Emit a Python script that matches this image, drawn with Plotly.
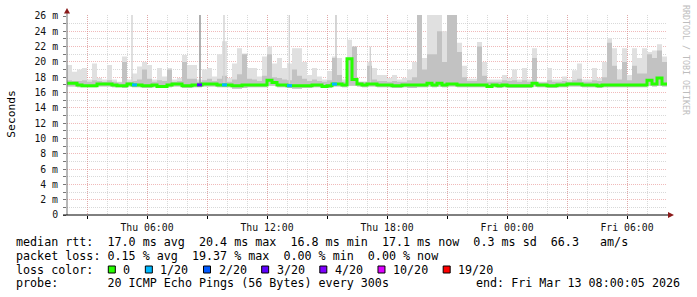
import pandas as pd
import plotly.graph_objects as go

# ---------------- data ----------------
start_time = "2026-03-12 02:00:00"
end_time = "2026-03-13 08:00:00"
bucket_minutes = 15

median_ms = [
    17.2, 17.2, 17.0, 16.9, 16.9, 16.9, 17.1, 17.1, 17.1, 17.0,
    16.9, 16.9, 17.1, 17.0, 17.0, 16.9, 16.9, 17.0, 16.8, 16.8,
    17.0, 17.1, 17.1, 16.9, 16.9, 17.0, 17.0, 17.1, 17.1, 17.1,
    17.0, 17.0, 17.0, 16.9, 16.9, 17.0, 17.0, 17.0, 17.0, 17.0,
    17.6, 17.3, 17.0, 17.0, 16.9, 16.9, 16.9, 16.9, 16.9, 17.0,
    17.0, 16.8, 16.9, 17.1, 17.1, 17.0, 20.4, 17.7, 17.1, 17.0,
    17.1, 17.1, 17.0, 17.0, 17.0, 16.9, 16.9, 17.0, 17.0, 17.0,
    17.0, 17.0, 17.2, 17.0, 17.2, 17.0, 17.1, 17.1, 17.0, 17.0,
    17.0, 17.0, 17.0, 17.0, 16.8, 17.0, 16.9, 17.0, 16.9, 16.9,
    16.9, 16.9, 16.9, 17.2, 17.0, 17.0, 16.9, 16.9, 17.0, 17.0,
    17.1, 17.1, 17.1, 17.0, 17.0, 17.0, 16.9, 17.0, 17.0, 17.0,
    17.0, 17.0, 17.0, 17.0, 17.0, 17.0, 17.6, 17.1, 17.9, 17.1,
]

ping_min_ms = [
    16.8, 16.8, 16.7, 16.7, 16.7, 16.7, 16.8, 16.8, 16.8, 16.7,
    16.7, 16.6, 16.8, 16.7, 16.7, 16.6, 16.6, 16.7, 16.6, 16.6,
    16.7, 16.8, 16.8, 16.6, 16.6, 16.7, 16.7, 16.8, 16.8, 16.8,
    16.7, 16.7, 16.7, 16.5, 16.5, 16.6, 16.7, 16.7, 16.7, 16.7,
    16.9, 16.9, 16.7, 16.7, 16.6, 16.5, 16.5, 16.6, 16.6, 16.7,
    16.7, 16.6, 16.6, 16.8, 16.8, 16.7, 16.9, 16.9, 16.8, 16.7,
    16.8, 16.8, 16.7, 16.7, 16.7, 16.6, 16.6, 16.7, 16.6, 16.6,
    16.7, 16.7, 16.8, 16.7, 16.8, 16.7, 16.8, 16.8, 16.7, 16.7,
    16.7, 16.7, 16.7, 16.7, 16.6, 16.7, 16.6, 16.7, 16.6, 16.6,
    16.6, 16.6, 16.6, 16.8, 16.7, 16.7, 16.6, 16.6, 16.7, 16.7,
    16.8, 16.8, 16.8, 16.7, 16.7, 16.7, 16.6, 16.7, 16.7, 16.7,
    16.7, 16.7, 16.7, 16.7, 16.7, 16.7, 16.9, 16.8, 16.9, 16.8,
]

ping_mid_ms = [
    17.6, 17.5, 17.5, 17.6, 17.4, 17.6, 17.5, 17.4, 17.6, 17.4,
    17.3, 20.0, 17.4, 17.5, 17.7, 19.0, 17.8, 17.4, 17.6, 17.5,
    19.0, 17.4, 17.5, 20.0, 17.8, 17.8, 17.4, 17.6, 17.8, 17.5,
    17.8, 18.2, 17.4, 17.7, 18.4, 21.0, 17.8, 17.7, 17.5, 18.2,
    21.0, 18.0, 17.9, 17.7, 17.6, 19.0, 18.2, 17.8, 17.5, 17.7,
    17.5, 17.4, 17.6, 20.5, 18.3, 17.4, 20.5, 22.0, 17.4, 17.4,
    19.5, 17.7, 17.5, 17.5, 17.4, 17.5, 17.4, 17.4, 17.6, 18.0,
    26.2, 19.0, 21.0, 21.0, 24.0, 20.0, 26.2, 26.2, 21.3, 18.0,
    17.5, 17.5, 22.0, 18.2, 17.4, 17.4, 17.4, 17.6, 17.5, 17.6,
    17.4, 17.6, 17.4, 20.5, 17.3, 17.3, 17.6, 17.4, 17.4, 17.5,
    17.4, 17.6, 17.8, 17.4, 17.4, 17.6, 17.5, 18.0, 22.5, 19.5,
    17.7, 20.0, 17.6, 19.5, 18.5, 18.5, 21.0, 20.5, 21.5, 20.0,
]

ping_max_ms = [
    19.6, 18.7, 19.0, 19.2, 17.7, 19.8, 17.9, 17.7, 19.6, 17.7,
    17.4, 20.7, 17.7, 18.5, 19.4, 20.0, 19.6, 17.7, 19.2, 18.1,
    19.2, 17.7, 17.9, 20.9, 19.6, 19.6, 17.7, 19.0, 19.2, 18.1,
    21.0, 22.7, 17.9, 19.8, 21.8, 21.1, 19.2, 19.2, 18.1, 20.7,
    22.0, 19.8, 20.5, 19.2, 19.8, 21.8, 21.8, 20.0, 18.3, 19.2,
    18.1, 17.7, 18.8, 20.7, 20.5, 17.7, 22.9, 21.3, 17.4, 17.4,
    20.0, 19.2, 18.3, 18.3, 17.9, 18.3, 17.7, 17.9, 19.0, 20.0,
    26.2, 20.5, 26.2, 26.2, 26.2, 24.0, 26.2, 26.2, 22.5, 19.5,
    17.8, 17.8, 22.6, 20.0, 17.7, 17.7, 17.7, 18.3, 17.9, 19.0,
    17.7, 19.2, 17.7, 21.8, 17.4, 17.4, 19.2, 17.7, 17.7, 18.1,
    17.7, 18.9, 19.8, 17.7, 17.7, 19.2, 17.9, 20.0, 23.1, 21.8,
    19.0, 21.8, 18.3, 21.8, 20.5, 21.8, 21.3, 21.5, 22.3, 20.7,
]

loss_pings = [0] * 120
for idx, lost in [(13, 1), (26, 3), (31, 1), (44, 1), (53, 1)]:
    loss_pings[idx] = lost

# thin single-step spikes of the smoke
spike_times = ["2026-03-12 05:15", "2026-03-12 08:39", "2026-03-12 09:51",
               "2026-03-12 13:07", "2026-03-12 15:27", "2026-03-12 17:10"]
spike_tops_ms = [26.2, 26.2, 26.2, 26.2, 26.2, 22.0]

loss_labels = ["0", "1/20", "2/20", "3/20", "4/20", "10/20", "19/20"]
loss_thresholds = [0, 1, 2, 3, 4, 10, 19]
loss_colors = ["#26ff00", "#00b8ff", "#0059ff", "#5e00ff", "#7e00ff", "#dd00ff", "#ff0000"]

y_tick_values = list(range(0, 27, 2))
y_tick_labels = ["0"] + [f"{v} m" for v in range(2, 27, 2)]
x_label_times = ["2026-03-12 06:00", "2026-03-12 12:00", "2026-03-12 18:00",
                 "2026-03-13 00:00", "2026-03-13 06:00"]
x_label_texts = ["Thu 06:00", "Thu 12:00", "Thu 18:00", "Fri 00:00", "Fri 06:00"]

stats_lines = [
    "median rtt:  17.0 ms avg  20.4 ms max  16.8 ms min  17.1 ms now  0.3 ms sd  66.3   am/s",
    "packet loss: 0.15 % avg  19.37 % max  0.00 % min  0.00 % now",
    "loss color:",
    "probe:       20 ICMP Echo Pings (56 Bytes) every 300s",
]
end_text = "end: Fri Mar 13 08:00:05 2026"

# ---------------- geometry helpers ----------------
W, H = 697, 297
PL, PR, PT, PB = 67, 667, 15, 215


def px(xp):
    return (xp - PL) / (PR - PL)


def py(yp):
    return (PB - yp) / (PB - PT)


MONO = "DejaVu Sans Mono"

t0 = pd.Timestamp(start_time)
t1 = pd.Timestamp(end_time)
edges = pd.date_range(t0, t1, freq=f"{bucket_minutes}min")


def ext(a):
    return list(a) + [a[-1]]


fig = go.Figure()
fig.add_trace(go.Scatter(x=edges, y=ext(ping_min_ms), mode="lines", line=dict(width=0, shape="hv"),
                         hoverinfo="skip", showlegend=False))
fig.add_trace(go.Scatter(x=edges, y=ext(ping_max_ms), mode="lines", line=dict(width=0, shape="hv"),
                         fill="tonexty", fillcolor="#e0e0e0", hoverinfo="skip", showlegend=False))
fig.add_trace(go.Scatter(x=edges, y=ext(ping_min_ms), mode="lines", line=dict(width=0, shape="hv"),
                         hoverinfo="skip", showlegend=False))
fig.add_trace(go.Scatter(x=edges, y=ext(ping_mid_ms), mode="lines", line=dict(width=0, shape="hv"),
                         fill="tonexty", fillcolor="#c2c2c2", hoverinfo="skip", showlegend=False))

# thin spikes
spike_colors = ["#d2d2d2", "#8e8e8e", "#d2d2d2", "#d2d2d2", "#c4c4c4", "#d2d2d2"]
for t, top, c in zip(spike_times, spike_tops_ms, spike_colors):
    fig.add_trace(go.Scatter(x=[pd.Timestamp(t), pd.Timestamp(t)], y=[17.2, top], mode="lines",
                             line=dict(color=c, width=1.4), hoverinfo="skip", showlegend=False))

# median line (green), with loss-coloured overlays
fig.add_trace(go.Scatter(x=edges, y=ext(median_ms), mode="lines",
                         line=dict(color=loss_colors[0], width=3, shape="hv"),
                         hoverinfo="skip", showlegend=False))


def loss_color(n):
    c = loss_colors[0]
    for th, col in zip(loss_thresholds, loss_colors):
        if n >= th:
            c = col
    return c


for i, n in enumerate(loss_pings):
    if n > 0:
        fig.add_trace(go.Scatter(x=[edges[i], edges[i + 1]], y=[median_ms[i], median_ms[i]], mode="lines",
                                 line=dict(color=loss_color(n), width=3), hoverinfo="skip",
                                 showlegend=False))

major_x = list(pd.date_range("2026-03-12 03:00", t1, freq="3h"))
major_text = []
for t in major_x:
    s = t.strftime("%Y-%m-%d %H:%M")
    major_text.append(x_label_texts[x_label_times.index(s)] if s in x_label_times else "")
minor_x = list(pd.date_range(t0, t1, freq="1h"))

PINK = "rgba(228,130,130,0.55)"
GREY = "rgba(185,185,185,0.55)"
tickfont = dict(family=MONO, size=9.8, color="#111111")

fig.update_xaxes(
    range=[t0, t1], tickmode="array", tickvals=major_x, ticktext=major_text,
    showgrid=True, gridcolor=PINK, griddash="1px,1px", gridwidth=1,
    minor=dict(tickmode="array", tickvals=minor_x, showgrid=True, gridcolor=GREY,
               griddash="1px,1px", gridwidth=1, ticks=""),
    ticks="outside", ticklen=3, tickcolor="#000000", tickfont=tickfont,
    showline=False, zeroline=False, automargin=False, fixedrange=True,
)
fig.update_yaxes(
    range=[0, 26.13], tickmode="array", tickvals=y_tick_values, ticktext=y_tick_labels,
    showgrid=True, gridcolor=PINK, griddash="1px,1px", gridwidth=1,
    minor=dict(tickmode="array", tickvals=list(range(1, 27, 2)), showgrid=True, gridcolor=GREY,
               griddash="1px,1px", gridwidth=1, ticks="outside", ticklen=3, tickcolor="#777777"),
    ticks="outside", ticklen=3, tickcolor="#777777", tickfont=tickfont, ticklabelstandoff=3,
    showline=False, zeroline=False, automargin=False, fixedrange=True,
)

shapes = []
# y axis line + arrow
shapes.append(dict(type="line", xref="paper", yref="paper", x0=px(67), x1=px(67), y0=py(215), y1=py(12),
                   line=dict(color="#707070", width=1)))
shapes.append(dict(type="path", xref="paper", yref="paper",
                   path=f"M {px(64)} {py(13.5)} L {px(70)} {py(13.5)} L {px(67)} {py(8)} Z",
                   fillcolor="#8b1a1a", line=dict(width=0)))
# x axis line + arrow
shapes.append(dict(type="line", xref="paper", yref="paper", x0=px(63), x1=px(669), y0=py(215), y1=py(215),
                   line=dict(color="#000000", width=1)))
shapes.append(dict(type="path", xref="paper", yref="paper",
                   path=f"M {px(668)} {py(212)} L {px(668)} {py(218)} L {px(674)} {py(215)} Z",
                   fillcolor="#8b1a1a", line=dict(width=0)))

annotations = []
legend_font = dict(family=MONO, size=11.7, color="#000000")
row_y = [241.7, 255.6, 269.5, 283.4]
for line, yy in zip(stats_lines, row_y):
    annotations.append(dict(text=line.replace(" ", "\u00a0"), xref="paper", yref="paper",
                            x=px(15), y=py(yy), xanchor="left", yanchor="middle",
                            showarrow=False, font=legend_font, borderpad=0))
annotations.append(dict(text=end_text.replace(" ", "\u00a0"), xref="paper", yref="paper",
                        x=px(681), y=py(row_y[3]), xanchor="right", yanchor="middle",
                        showarrow=False, font=legend_font, borderpad=0))

# loss colour legend boxes
s = 108.3
for lab, col in zip(loss_labels, loss_colors):
    shapes.append(dict(type="rect", xref="paper", yref="paper", x0=px(s), x1=px(s + 7),
                       y0=py(273), y1=py(266), fillcolor=col, line=dict(color="#000000", width=1)))
    annotations.append(dict(text=lab, xref="paper", yref="paper", x=px(s + 14), y=py(row_y[2]),
                            xanchor="left", yanchor="middle", showarrow=False, font=legend_font,
                            borderpad=0))
    s += 30 + 7.04 * len(lab)

# y-axis title
annotations.append(dict(text="Seconds", xref="paper", yref="paper", x=px(10.7), y=py(114),
                        xanchor="center", yanchor="middle", textangle=-90, showarrow=False,
                        font=dict(family=MONO, size=11.3, color="#000000")))
# watermark
annotations.append(dict(text="RRDTOOL / TOBI OETIKER".replace(" ", "\u00a0"), xref="paper", yref="paper",
                        x=px(686), y=py(60), xanchor="center", yanchor="middle", textangle=90,
                        showarrow=False, font=dict(family=MONO, size=8.3, color="#bdbdbd")))

fig.update_layout(
    width=W, height=H, margin=dict(l=PL, r=W - PR, t=PT, b=H - PB, autoexpand=False),
    paper_bgcolor="#ffffff", plot_bgcolor="#ffffff", template="none",
    shapes=shapes, annotations=annotations, showlegend=False,
)

fig.write_html("out.html")
